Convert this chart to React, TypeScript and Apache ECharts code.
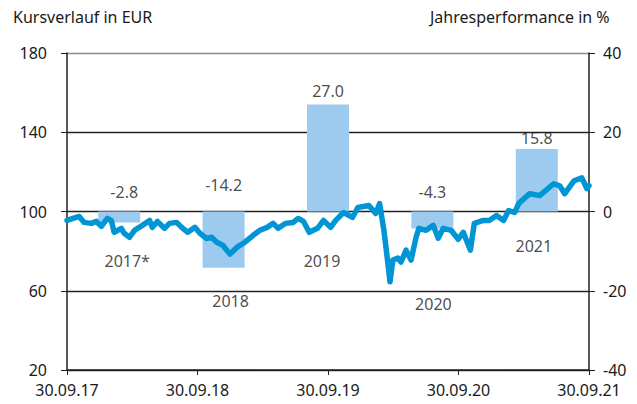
import React, { useEffect, useRef } from "react";
import * as echarts from "echarts";

const xTickLabels = ["30.09.17", "30.09.18", "30.09.19", "30.09.20", "30.09.21"];
const years = ["2017*", "2018", "2019", "2020", "2021"];
const performance = [-2.8, -14.2, 27.0, -4.3, 15.8];

const priceDates = [
  "2017-09-30", "2017-11-03", "2017-11-17", "2017-12-07", "2017-12-21", "2018-01-04", "2018-01-21",
  "2018-02-01", "2018-02-09", "2018-03-01", "2018-03-09", "2018-03-24", "2018-04-07", "2018-04-29",
  "2018-05-19", "2018-05-27", "2018-06-10", "2018-06-30", "2018-07-14", "2018-08-03", "2018-08-17",
  "2018-09-03", "2018-09-23", "2018-10-07", "2018-10-26", "2018-11-09", "2018-11-23", "2018-12-10",
  "2018-12-30", "2019-01-19", "2019-02-10", "2019-03-05", "2019-03-24", "2019-04-13", "2019-04-30",
  "2019-05-14", "2019-06-03", "2019-06-25", "2019-07-09", "2019-07-24", "2019-08-09", "2019-09-01",
  "2019-09-18", "2019-10-08", "2019-10-22", "2019-11-13", "2019-12-08", "2019-12-23", "2020-01-23",
  "2020-02-11", "2020-02-22", "2020-03-05", "2020-03-16", "2020-03-22", "2020-03-30", "2020-04-13",
  "2020-04-22", "2020-05-06", "2020-05-20", "2020-06-03", "2020-06-11", "2020-07-01", "2020-07-21",
  "2020-08-04", "2020-08-18", "2020-09-09", "2020-09-29", "2020-10-13", "2020-11-02", "2020-11-13",
  "2020-12-08", "2020-12-25", "2021-01-14", "2021-02-03", "2021-02-17", "2021-03-06", "2021-03-17",
  "2021-04-17", "2021-05-15", "2021-06-23", "2021-07-10", "2021-07-24", "2021-08-19", "2021-09-10",
  "2021-09-24", "2021-09-30",
];
const priceValues = [
  95.5, 97.5, 94.5, 94, 95, 92.5, 96.5,
  95.5, 89.5, 91.5, 89, 87, 90.5, 93,
  95.5, 92, 95, 91.5, 94, 94.5, 92,
  89.5, 92, 89, 86.4, 87, 84.5, 83,
  78.5, 82, 84.5, 88, 90.5, 92, 94,
  91.5, 94, 94.5, 96.5, 95, 89.5, 91.5,
  95.5, 92, 95.5, 99.5, 97, 102, 103,
  99, 104, 90.5, 74, 64.5, 75.5, 76.5,
  74.5, 80.5, 75.5, 87, 91.5, 90.5, 93,
  86.5, 91.5, 90.5, 86, 89.5, 80.5, 94,
  95.5, 95.5, 98, 95.5, 100.5, 99.5, 104,
  109, 108, 114, 113, 109, 115.5, 117,
  111.5, 113,
];

// label layout (percent-axis coordinates and pixel nudges), not data
const valueLabelY = [5.0, 6.8, 30.4, 4.8, 18.6];
const valueLabelDX = [5, 0, 0, 0, 0];
const yearLabelY = [-12.6, -22.6, -12.6, -23.4, -8.8];
const yearLabelDX = [8, 7, -6, 1, -3];

const FONT = "'Noto Sans', sans-serif";

export default function App() {
  const ref = useRef<HTMLDivElement>(null);
  useEffect(() => {
    if (!ref.current) return;
    const chart = echarts.init(ref.current, null, { renderer: "svg" });
    const t0 = Date.parse("2017-09-30T00:00:00Z");
    const yearMs = 365.25 * 86400000;
    const lineData = priceDates.map((d, i) => [
      (Date.parse(d + "T00:00:00Z") - t0) / yearMs,
      priceValues[i],
    ]);
    const textStyle = { fontFamily: FONT, fontSize: 16, color: "#1a1a1a" };
    chart.setOption({
      animation: false,
      textStyle: { fontFamily: FONT },
      grid: { left: 67, right: 48, top: 53, bottom: 34, containLabel: false },
      graphic: [
        { type: "text", left: 13, top: 9, style: { text: "Kursverlauf in EUR", font: `16px ${FONT}`, fill: "#1a1a1a" } },
        { type: "text", left: 430, top: 9, style: { text: "Jahresperformance in %", font: `16px ${FONT}`, fill: "#1a1a1a" } },
      ],
      xAxis: [
        {
          type: "value",
          min: 0,
          max: 4,
          interval: 1,
          axisLine: { show: true, onZero: false, lineStyle: { color: "#222", width: 1.5 } },
          axisTick: { show: true, length: 5, lineStyle: { color: "#222" } },
          axisLabel: { ...textStyle, margin: 12, formatter: (v: number) => xTickLabels[Math.round(v)] ?? "" },
          splitLine: { show: false },
        },
        {
          type: "category",
          data: years,
          show: false,
          boundaryGap: true,
        },
      ],
      yAxis: [
        {
          type: "value",
          min: 20,
          max: 180,
          interval: 40,
          position: "left",
          axisLine: { show: true, lineStyle: { color: "#222", width: 1.5 } },
          axisTick: { show: true, length: 6, lineStyle: { color: "#222" } },
          axisLabel: { ...textStyle, margin: 20 },
          splitLine: { show: true, lineStyle: { color: ["#222", "#222", "#222", "#222", "#8a8a8a"], width: 1.3 } },
        },
        {
          type: "value",
          min: -40,
          max: 40,
          interval: 20,
          position: "right",
          axisLine: { show: true, lineStyle: { color: "#222", width: 1.5 } },
          axisTick: { show: true, length: 6, lineStyle: { color: "#222" } },
          axisLabel: { ...textStyle, margin: 14 },
          splitLine: { show: false },
        },
      ],
      series: [
        {
          type: "bar",
          xAxisIndex: 1,
          yAxisIndex: 1,
          data: performance,
          barWidth: 42,
          itemStyle: { color: "#9dcbf0" },
          z: 1,
        },
        {
          type: "scatter",
          xAxisIndex: 1,
          yAxisIndex: 1,
          symbolSize: 0,
          data: performance.map((v, i) => ({
            value: [years[i], valueLabelY[i]],
            label: { offset: [valueLabelDX[i], 0] },
          })),
          label: {
            show: true,
            position: "inside",
            ...textStyle,
            formatter: (p: any) => performance[p.dataIndex].toFixed(1),
          },
          silent: true,
          z: 3,
        },
        {
          type: "scatter",
          xAxisIndex: 1,
          yAxisIndex: 1,
          symbolSize: 0,
          data: years.map((y, i) => ({
            value: [y, yearLabelY[i]],
            label: { offset: [yearLabelDX[i], 0] },
          })),
          label: {
            show: true,
            position: "inside",
            ...textStyle,
            formatter: (p: any) => years[p.dataIndex],
          },
          silent: true,
          z: 3,
        },
        {
          type: "line",
          xAxisIndex: 0,
          yAxisIndex: 0,
          data: lineData,
          showSymbol: false,
          symbol: "none",
          lineStyle: { color: "#0095d5", width: 5.5, join: "round", cap: "round" },
          z: 4,
        },
      ],
    });
    return () => chart.dispose();
  }, []);
  return <div ref={ref} style={{ width: 637, height: 404, margin: -8 }} />;
}
